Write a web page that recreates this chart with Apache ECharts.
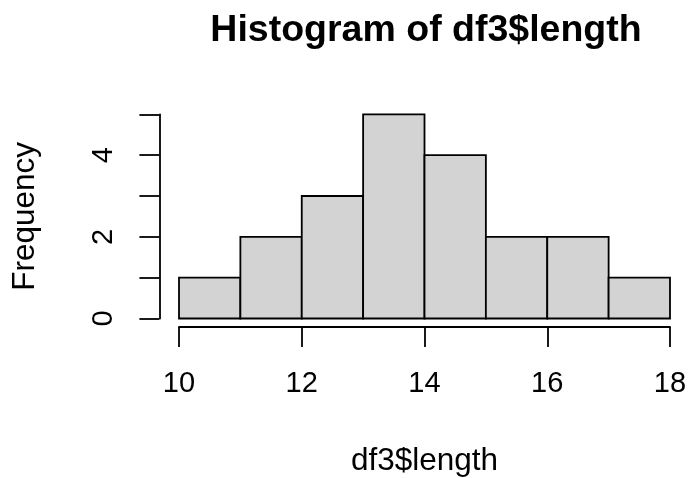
<!DOCTYPE html>
<html>
<head>
<meta charset="utf-8">
<script src="https://cdn.jsdelivr.net/npm/echarts@6/dist/echarts.min.js"></script>
<style>
  html, body { margin: 0; padding: 0; background: #fff; }
  #chart { width: 690px; height: 478px; }
</style>
</head>
<body>
<div id="chart"></div>
<script>
// histogram bins of df3$length
const binStarts = [10, 11, 12, 13, 14, 15, 16, 17];
const binEnds = [11, 12, 13, 14, 15, 16, 17, 18];
const counts = [1, 2, 3, 5, 4, 2, 2, 1];
const yTickLabels = [0, 2, 4];

const chart = echarts.init(document.getElementById("chart"));
const font = "Liberation Sans, Arial, Helvetica, sans-serif";

const option = {
  backgroundColor: "#fff",
  animation: false,
  title: {
    text: "Histogram of df3$length",
    left: 421,
    top: 7,
    textAlign: "center",
    textStyle: {
      fontFamily: font,
      fontWeight: "bold",
      fontSize: 37.5,
      color: "#000",
    },
  },
  grid: {
    left: 179,
    right: 20,
    top: 114.3,
    bottom: 157.3,
  },
  xAxis: {
    type: "value",
    min: 10,
    max: 18,
    interval: 2,
    offset: 8.5,
    name: "df3$length",
    nameLocation: "middle",
    nameGap: 134,
    nameTextStyle: {
      fontFamily: font,
      fontSize: 31.5,
      color: "#000",
      verticalAlign: "middle",
    },
    axisLine: { onZero: false, lineStyle: { color: "#000", width: 1.8 } },
    axisTick: { length: 20, lineStyle: { color: "#000", width: 1.8 } },
    axisLabel: {
      fontFamily: font,
      fontSize: 29,
      color: "#000",
      margin: 57,
      verticalAlign: "middle",
      align: "center",
    },
    splitLine: { show: false },
  },
  yAxis: {
    type: "value",
    min: 0,
    max: 5,
    interval: 1,
    offset: 19.6,
    name: "Frequency",
    nameLocation: "middle",
    nameGap: 134,
    nameRotate: 90,
    nameTextStyle: {
      fontFamily: font,
      fontSize: 31.5,
      color: "#000",
      verticalAlign: "middle",
      align: "center",
    },
    axisLine: { show: true, onZero: false, lineStyle: { color: "#000", width: 1.8 } },
    axisTick: { show: true, length: 20, lineStyle: { color: "#000", width: 1.8 } },
    axisLabel: {
      fontFamily: font,
      fontSize: 29,
      color: "#000",
      rotate: 90,
      margin: 55.5,
      verticalAlign: "middle",
      align: "center",
      formatter: (v) => (yTickLabels.includes(v) ? String(v) : ""),
    },
    splitLine: { show: false },
  },
  series: [
    {
      type: "custom",
      data: binStarts.map((s, i) => [s, binEnds[i], counts[i]]),
      encode: { x: [0, 1], y: 2 },
      renderItem: (params, api) => {
        const p0 = api.coord([api.value(0), 0]);
        const p1 = api.coord([api.value(1), api.value(2)]);
        return {
          type: "rect",
          shape: {
            x: p0[0],
            y: p1[1],
            width: p1[0] - p0[0],
            height: p0[1] - p1[1],
          },
          style: { fill: "#d3d3d3", stroke: "#000", lineWidth: 1.8 },
        };
      },
    },
  ],
};

chart.setOption(option);
</script>
</body>
</html>
